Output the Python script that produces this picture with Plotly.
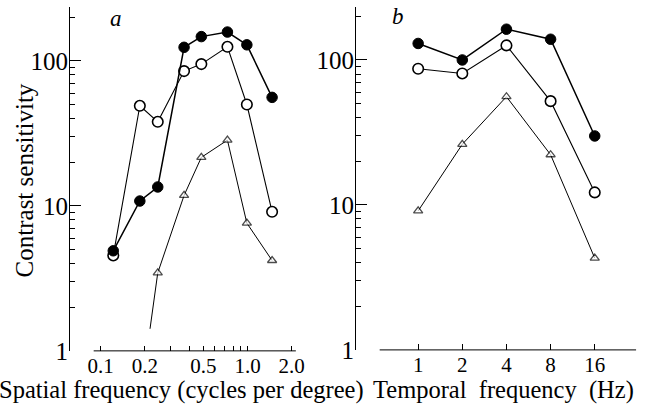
import plotly.graph_objects as go

W, H = 651, 419

# ---- data ----
spatial_freq = [0.122, 0.185, 0.245, 0.37, 0.485, 0.73, 0.99, 1.47]
spatial_filled = [4.9, 10.8, 13.5, 124, 147, 158, 129, 56]
spatial_open = [4.55, 49, 38, 85, 95, 125, 50, 9.1]
spatial_freq_tri = [0.217, 0.245, 0.37, 0.485, 0.73, 0.99, 1.47]
spatial_tri = [1.42, 3.45, 11.8, 21.6, 28.4, 7.6, 4.2]

temporal_freq = [1, 2, 4, 8, 16]
temporal_filled = [130, 100, 163, 139, 29.9]
temporal_open = [87, 80.7, 126, 52, 12.2]
temporal_tri = [9.1, 26.2, 55.8, 22.2, 4.3]

x_a_ticks = [0.1, 0.2, 0.5, 1.0, 2.0]
x_a_labels = ["0.1", "0.2", "0.5", "1.0", "2.0"]
x_a_minor = [0.3, 0.4, 0.6, 0.7, 0.8, 0.9]
x_b_ticks = [1, 2, 4, 8, 16]
x_b_labels = ["1", "2", "4", "8", "16"]
y_ticks = [1, 10, 100]
y_labels = ["1", "10", "100"]
y_minor = [2, 3, 4, 5, 6, 7, 8, 9, 20, 30, 40, 50, 60, 70, 80, 90, 200]

FONT = "Liberation Serif"


def fx(px):
    return px / W


def fy(py):
    return 1 - py / H


fig = go.Figure()


def add_set(x, yf, yo, yt, xt, xa, ya, tri_sizes):
    fig.add_trace(go.Scatter(x=x, y=yo, mode="lines+markers", xaxis=xa, yaxis=ya,
                             line=dict(color="black", width=1.1),
                             marker=dict(symbol="circle", size=10.5, color="white",
                                         line=dict(color="black", width=1.6)),
                             showlegend=False))
    fig.add_trace(go.Scatter(x=xt, y=yt, mode="lines+markers", xaxis=xa, yaxis=ya,
                             line=dict(color="black", width=1),
                             marker=dict(symbol="triangle-up", size=tri_sizes, color="white",
                                         line=dict(color="black", width=1.3)),
                             showlegend=False))
    fig.add_trace(go.Scatter(x=x, y=yf, mode="lines+markers", xaxis=xa, yaxis=ya,
                             line=dict(color="black", width=1.5),
                             marker=dict(symbol="circle", size=10.5, color="black",
                                         line=dict(color="black", width=1)),
                             showlegend=False))


add_set(spatial_freq, spatial_filled, spatial_open, spatial_tri, spatial_freq_tri,
        "x", "y", [0] + [8] * (len(spatial_tri) - 1))
add_set(temporal_freq, temporal_filled, temporal_open, temporal_tri, temporal_freq,
        "x2", "y2", [8] * len(temporal_tri))

common = dict(showgrid=False, zeroline=False, ticks="inside", tickcolor="black",
              linecolor="black", linewidth=1)

# panel geometry in picture pixels
A_YAX_X, A_XLINE = 71, (95, 300)
B_YAX_X, B_XLINE = 361, (385, 645)
A_BOT, B_BOT, TOP = 363, 362, 7

fig.update_layout(
    width=W, height=H, margin=dict(l=0, r=0, t=0, b=0),
    paper_bgcolor="white", plot_bgcolor="white",
    font=dict(family=FONT, color="black"),
    xaxis=dict(type="log", range=[-1.208, 0.329], domain=[fx(A_YAX_X), fx(A_XLINE[1])],
               anchor="y", showline=False,
               tickvals=x_a_ticks, ticktext=x_a_labels, ticklen=5, tickwidth=1,
               minor=dict(tickvals=x_a_minor, ticks="inside", ticklen=5, tickcolor="black"),
               tickfont=dict(size=21, family=FONT), **common),
    yaxis=dict(type="log", range=[0, 2.373], domain=[fy(A_BOT), fy(TOP)],
               anchor="x", showline=True,
               tickvals=y_ticks, ticktext=y_labels, ticklen=11, tickwidth=1,
               minor=dict(tickvals=y_minor, ticks="inside", ticklen=5, tickcolor="black"),
               tickfont=dict(size=25, family=FONT), ticklabelstandoff=-4, **common),
    xaxis2=dict(type="log", range=[-0.4237, 1.486], domain=[fx(B_YAX_X), fx(B_XLINE[1])],
                anchor="y2", showline=False,
                tickvals=x_b_ticks, ticktext=x_b_labels, ticklen=6, tickwidth=1,
                tickfont=dict(size=21, family=FONT), **common),
    yaxis2=dict(type="log", range=[0, 2.367], domain=[fy(B_BOT), fy(TOP)],
                anchor="x2", showline=True,
                tickvals=y_ticks, ticktext=y_labels, ticklen=11, tickwidth=1,
                minor=dict(tickvals=y_minor, ticks="inside", ticklen=5, tickcolor="black"),
                tickfont=dict(size=25, family=FONT), ticklabelstandoff=-4, **common),
)

# separate x-axis base lines (they start a little right of the y axes)
for (x0, x1), yb in ((A_XLINE, A_BOT), (B_XLINE, B_BOT)):
    fig.add_shape(type="line", xref="paper", yref="paper",
                  x0=fx(x0), x1=fx(x1), y0=fy(yb), y1=fy(yb),
                  line=dict(color="black", width=1), layer="above")


def ann(text, px, py, size, **kw):
    fig.add_annotation(text=text, x=fx(px), y=fy(py), xref="paper", yref="paper",
                       showarrow=False, font=dict(size=size, family=FONT, color="black"),
                       xanchor="center", yanchor="middle", **kw)


NB = "\u00a0"
ann("Contrast sensitivity", 25, 187, 25, textangle=-90)
ann("Spatial frequency (cycles per degree)", 184, 403, 24.5)
ann("Temporal" + NB * 2 + "frequency" + NB * 2 + "(Hz)", 511, 403, 24.5)
ann("<i>a</i>", 118, 19, 23)
ann("<i>b</i>", 404, 17, 23)

fig.write_html("out.html", config={"displayModeBar": False},
               post_script="document.body.style.margin='0px';")
